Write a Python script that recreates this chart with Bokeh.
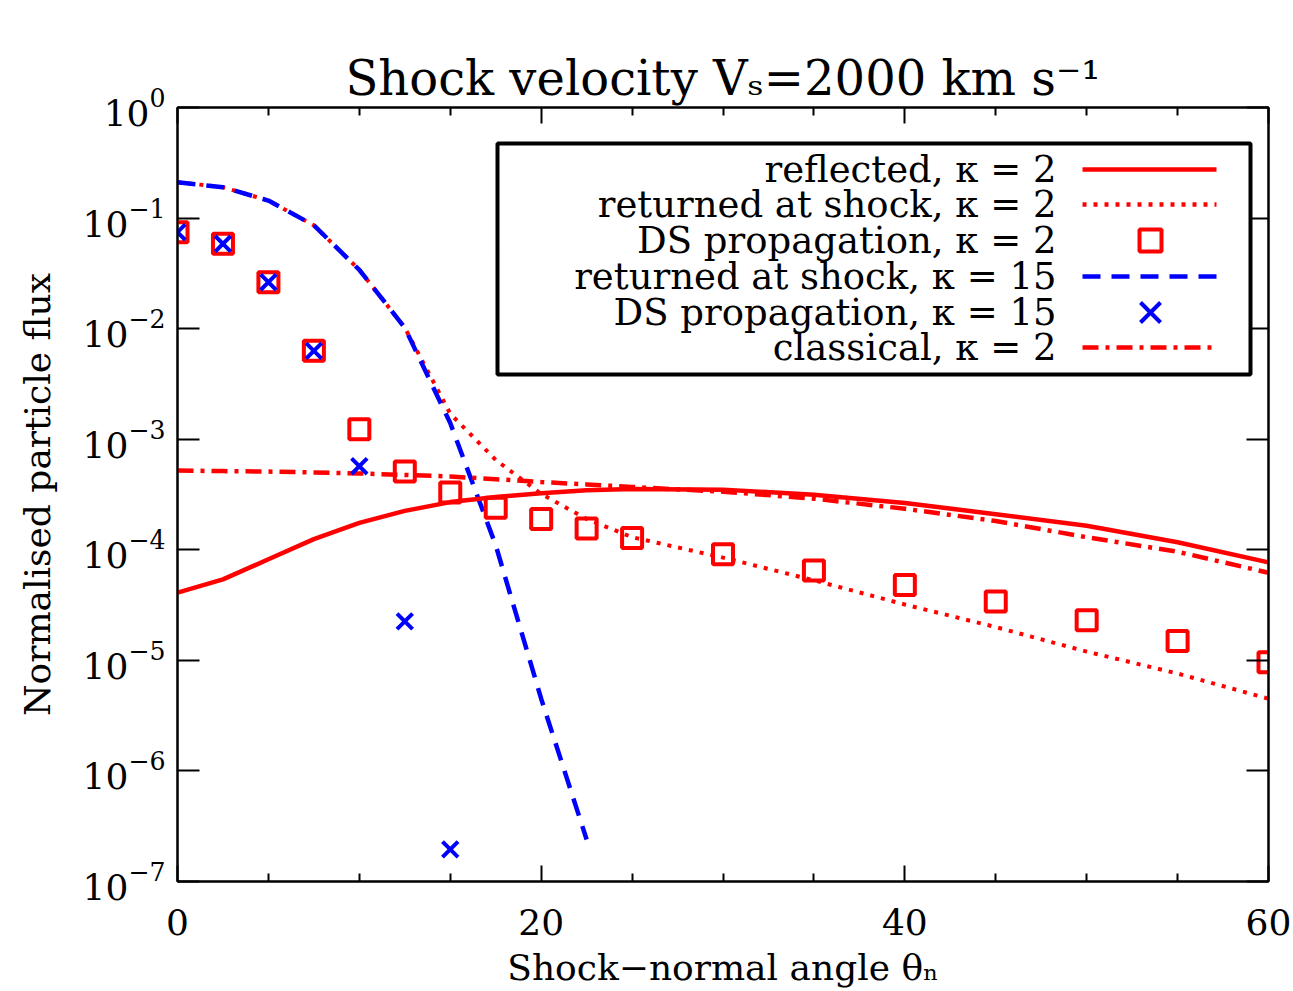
from bokeh.plotting import figure
from bokeh.models import (Range1d, FixedTicker, LinearAxis, LogAxis, Label,
                          BoxAnnotation, Arrow)
from bokeh.embed import file_html
from bokeh.resources import INLINE

# ---------------- data ----------------
theta = [0, 2.5, 5, 7.5, 10, 12.5, 15, 17.5, 20, 22.5, 25, 30, 35, 40, 45, 50, 55, 60]
reflected_k2 = [4.1e-5, 5.4e-5, 8.2e-5, 1.25e-4, 1.75e-4, 2.25e-4, 2.7e-4, 3.0e-4, 3.25e-4,
                3.45e-4, 3.55e-4, 3.5e-4, 3.15e-4, 2.65e-4, 2.1e-4, 1.65e-4, 1.17e-4, 7.7e-5]
returned_k2 = [0.211, 0.19, 0.144, 0.086, 0.034, 0.0102, 1.7e-3, 6.5e-4, 3.2e-4,
               1.9e-4, 1.3e-4, 8.5e-5, 5.3e-5, 3.2e-5, 2.0e-5, 1.2e-5, 7.6e-6, 4.5e-6]
classical_k2 = [5.2e-4, 5.15e-4, 5.1e-4, 5.0e-4, 4.9e-4, 4.75e-4, 4.6e-4, 4.35e-4, 4.1e-4,
                3.9e-4, 3.7e-4, 3.35e-4, 2.9e-4, 2.35e-4, 1.82e-4, 1.3e-4, 9.6e-5, 6.2e-5]
ds_k2 = [0.0745, 0.0585, 0.0263, 0.0063, 1.23e-3, 5.1e-4, 3.3e-4, 2.4e-4, 1.9e-4,
         1.56e-4, 1.28e-4, 9.1e-5, 6.5e-5, 4.8e-5, 3.4e-5, 2.3e-5, 1.5e-5, 9.6e-6]

theta_k15 = [0, 2.5, 5, 7.5, 10, 12.5, 15, 17.5, 20, 22.5]
returned_k15 = [0.211, 0.19, 0.144, 0.086, 0.034, 0.0102, 1.4e-3, 1.1e-4, 4.5e-6, 2.4e-7]

theta_ds_k15 = [0, 2.5, 5, 7.5, 10, 12.5, 15]
ds_k15 = [0.0745, 0.0585, 0.0263, 0.0063, 5.7e-4, 2.25e-5, 1.95e-7]

x_major = [0, 20, 40, 60]
x_minor = [5, 10, 15, 25, 30, 35, 45, 50, 55]
y_major = [1e-7, 1e-6, 1e-5, 1e-4, 1e-3, 1e-2, 1e-1, 1e0]

legend_labels = ["reflected, κ = 2", "returned at shock, κ = 2", "DS propagation, κ = 2",
                 "returned at shock, κ = 15", "DS propagation, κ = 15", "classical, κ = 2"]

title_text = "Shock velocity Vₛ=2000 km s⁻¹"
x_label = "Shock−normal angle θₙ"
y_label = "Normalised particle flux"

# ---------------- styling ----------------
FONT = "DejaVu Serif"
RED = "#ff0000"
BLUE = "#0000ff"

FW, FH = 1091, 774

p = figure(frame_width=FW, frame_height=FH,
           x_range=Range1d(0, 60), y_range=Range1d(1e-7, 1.0),
           y_axis_type="log", output_backend="svg", toolbar_location=None,
           min_border_left=177, min_border_right=25, min_border_top=107,
           min_border_bottom=100,
           background_fill_color="white", border_fill_color="white",
           outline_line_color="black", outline_line_width=2)
p.xgrid.visible = False
p.ygrid.visible = False

p.title.text = title_text
p.title.align = "center"
p.title.text_font = FONT
p.title.text_font_size = "48px"
p.title.text_font_style = "normal"
p.title.text_color = "black"
p.title.standoff = 4

xt = FixedTicker(ticks=x_major, minor_ticks=x_minor)
yt = FixedTicker(ticks=y_major, minor_ticks=[])

xa = p.xaxis[0]
xa.ticker = xt
xa.axis_label = x_label
ya = p.yaxis[0]
ya.ticker = yt
ya.axis_label = y_label

for ax in (xa, ya):
    ax.axis_line_width = 2
    ax.major_tick_line_width = 2
    ax.minor_tick_line_width = 2
    ax.major_tick_out = 0
    ax.minor_tick_out = 0
    ax.major_label_text_font = FONT
    ax.major_label_text_font_size = "36px"
    ax.major_label_text_color = "black"
    ax.axis_label_text_font = FONT
    ax.axis_label_text_font_size = "36px"
    ax.axis_label_text_font_style = "normal"
    ax.axis_label_text_color = "black"

xa.major_tick_in = 16
xa.minor_tick_in = 8
xa.major_label_standoff = 27
xa.axis_label_standoff = 9
ya.major_tick_in = 22
ya.minor_tick_in = 0
ya.major_label_standoff = 12
ya.axis_label_standoff = 22

top_ax = LinearAxis(ticker=xt, major_tick_in=16, minor_tick_in=8, major_tick_out=0,
                    minor_tick_out=0, axis_line_width=2, major_tick_line_width=2,
                    minor_tick_line_width=2, major_label_text_color=None,
                    major_label_text_font_size="1px", major_label_standoff=0)
p.add_layout(top_ax, "above")
right_ax = LogAxis(ticker=yt, major_tick_in=22, minor_tick_in=0, major_tick_out=0,
                   minor_tick_out=0, axis_line_width=2, major_tick_line_width=2,
                   major_label_text_color=None, major_label_text_font_size="1px",
                   major_label_standoff=0)
p.add_layout(right_ax, "right")

# ---------------- data glyphs ----------------
p.line(theta, returned_k2, line_color=RED, line_width=4, line_dash="4 7")
p.line(theta_k15, returned_k15, line_color=BLUE, line_width=4.5, line_dash="18 11")
p.line(theta, reflected_k2, line_color=RED, line_width=4.5)
p.line(theta, classical_k2, line_color=RED, line_width=4.5, line_dash="16 7 4 7")
p.scatter(theta, ds_k2, marker="square", size=20, line_color=RED, fill_color=None,
          line_width=4)
p.scatter(theta_ds_k15, ds_k15, marker="x", size=22, line_color=BLUE, line_width=4)

# ---------------- legend (drawn in frame pixel units) ----------------
p.add_layout(BoxAnnotation(left=320, right=1073, top=738, bottom=507,
                           left_units="screen", right_units="screen",
                           top_units="screen", bottom_units="screen",
                           fill_color="white", fill_alpha=1.0,
                           line_color="black", line_alpha=1.0, line_width=4))
rows = [712, 677, 641, 605, 569, 534]
for lab, ry in zip(legend_labels, rows):
    p.add_layout(Label(x=879, y=ry, x_units="screen", y_units="screen", text=lab,
                       text_align="right", text_baseline="middle", text_font=FONT,
                       text_font_size="37px", text_color="black"))

sx0, sx1, mx = 905, 1039, 973
line_styles = {0: (RED, None), 1: (RED, "4 7"), 3: (BLUE, "18 11"), 5: (RED, "16 7 4 7")}
for i, (col, dash) in line_styles.items():
    kw = dict(end=None, x_start=sx0, y_start=rows[i], x_end=sx1, y_end=rows[i],
              start_units="screen", end_units="screen", line_color=col, line_width=4.5)
    if dash:
        kw["line_dash"] = dash
    p.add_layout(Arrow(**kw))

p.add_layout(BoxAnnotation(left=mx - 11, right=mx + 11, top=rows[2] + 11, bottom=rows[2] - 11,
                           left_units="screen", right_units="screen",
                           top_units="screen", bottom_units="screen",
                           fill_alpha=0, line_color=RED, line_alpha=1.0, line_width=4))
for d in (1, -1):
    p.add_layout(Arrow(end=None, x_start=mx - 10, y_start=rows[4] - 10 * d,
                       x_end=mx + 10, y_end=rows[4] + 10 * d,
                       start_units="screen", end_units="screen",
                       line_color=BLUE, line_width=4))

open("out.html", "w").write(file_html(p, INLINE))
